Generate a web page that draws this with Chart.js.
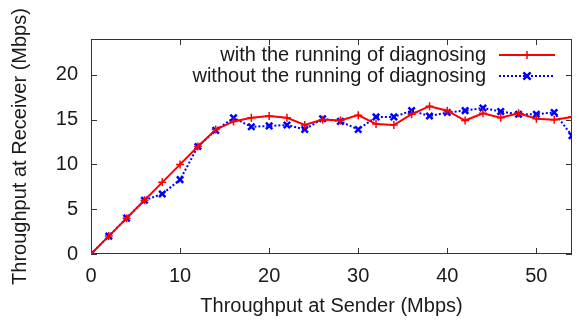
<!DOCTYPE html>
<html>
<head>
<meta charset="utf-8">
<script src="https://cdn.jsdelivr.net/npm/chart.js@4/dist/chart.umd.min.js"></script>
<style>
  html, body { margin: 0; padding: 0; background: #ffffff; }
  #wrap { width: 579px; height: 320px; }
</style>
</head>
<body>
<div id="wrap"><canvas id="c" width="579" height="320"></canvas></div>
<script>
// ---- data ----
const senderMbps = [0, 2, 4, 6, 8, 10, 12, 14, 16, 18, 20, 22, 24, 26, 28, 30, 32, 34, 36, 38, 40, 42, 44, 46, 48, 50, 52, 54];
const withDiagnosing = [0, 2, 4, 6, 8, 10, 12, 13.9, 14.8, 15.2, 15.4, 15.2, 14.4, 15.0, 14.9, 15.5, 14.5, 14.4, 15.6, 16.5, 16.0, 14.9, 15.7, 15.2, 15.7, 15.1, 15.0, 15.3];
const withoutDiagnosing = [0, 2, 4, 6, 6.7, 8.3, 12, 13.8, 15.2, 14.2, 14.3, 14.4, 13.9, 15.1, 14.8, 13.9, 15.3, 15.3, 16.0, 15.4, 15.8, 16.0, 16.3, 15.9, 15.6, 15.6, 15.8, 13.2];
const seriesLabels = ["with the running of diagnosing", "without the running of diagnosing"];
const xTickValues = [0, 10, 20, 30, 40, 50];
const yTickValues = [0, 5, 10, 15, 20];
const xTitle = "Throughput at Sender (Mbps)";
const yTitle = "Throughput at Receiver (Mbps)";

const FONT = "'Liberation Sans', Arial, Helvetica, sans-serif";
const TEXT = "#1a1a1a";
const AXIS = "#333333";

const toPoints = (ys) => senderMbps.map((x, i) => ({ x: x, y: ys[i] }));

const frameAndLegend = {
  id: 'frameAndLegend',
  beforeDatasetsDraw(chart) {
    const { ctx, chartArea: a, scales } = chart;
    ctx.save();
    ctx.strokeStyle = AXIS;
    ctx.lineWidth = 1;
    ctx.strokeRect(a.left + 0.5, a.top + 0.5, a.right - a.left - 1, a.bottom - a.top - 1);
    const L = 6;
    ctx.beginPath();
    xTickValues.forEach(v => {
      const px = Math.round(scales.x.getPixelForValue(v)) + 0.5;
      ctx.moveTo(px, a.bottom); ctx.lineTo(px, a.bottom - L);
      ctx.moveTo(px, a.top); ctx.lineTo(px, a.top + L);
    });
    yTickValues.forEach(v => {
      const py = Math.round(scales.y.getPixelForValue(v)) + 0.5;
      ctx.moveTo(a.left, py); ctx.lineTo(a.left + L, py);
      ctx.moveTo(a.right, py); ctx.lineTo(a.right - L, py);
    });
    ctx.stroke();
    ctx.restore();
  },
  afterDraw(chart) {
    const { ctx } = chart;
    ctx.save();
    ctx.font = "20px " + FONT;
    ctx.textAlign = 'right';
    ctx.textBaseline = 'middle';
    const rows = [55, 76];
    chart.data.datasets.forEach((ds, i) => {
      const y = rows[i];
      ctx.fillStyle = TEXT;
      ctx.fillText(ds.label, 486, y);
      ctx.strokeStyle = ds.borderColor;
      ctx.lineWidth = ds.borderWidth;
      ctx.setLineDash(ds.borderDash || []);
      ctx.beginPath();
      ctx.moveTo(499, y); ctx.lineTo(555, y);
      ctx.stroke();
      ctx.setLineDash([]);
      ctx.lineWidth = ds.pointBorderWidth;
      const cx = 527, r = ds.pointRadius;
      ctx.beginPath();
      if (ds.pointStyle === 'cross') {
        ctx.moveTo(cx - r, y); ctx.lineTo(cx + r, y);
        ctx.moveTo(cx, y - r); ctx.lineTo(cx, y + r);
      } else {
        const d = r * 0.8;
        ctx.moveTo(cx - d, y - d); ctx.lineTo(cx + d, y + d);
        ctx.moveTo(cx - d, y + d); ctx.lineTo(cx + d, y - d);
      }
      ctx.stroke();
    });
    ctx.restore();
  }
};

new Chart(document.getElementById('c'), {
  type: 'line',
  data: {
    datasets: [
      {
        label: seriesLabels[0],
        data: toPoints(withDiagnosing),
        borderColor: '#ff0000',
        backgroundColor: '#ff0000',
        borderWidth: 2,
        pointStyle: 'cross',
        pointRadius: 4,
        pointBorderWidth: 1.5,
        pointBorderColor: '#ff0000',
        tension: 0,
        fill: false
      },
      {
        label: seriesLabels[1],
        data: toPoints(withoutDiagnosing),
        borderColor: '#0000ff',
        backgroundColor: '#0000ff',
        borderWidth: 2,
        borderDash: [2, 2],
        pointStyle: 'crossRot',
        pointRadius: 4.5,
        pointBorderWidth: 2.5,
        pointBorderColor: '#0000ff',
        tension: 0,
        fill: false
      }
    ]
  },
  options: {
    responsive: false,
    animation: false,
    events: [],
    layout: { padding: { top: 39, right: 2, left: 0, bottom: 0 } },
    plugins: { legend: { display: false }, tooltip: { enabled: false } },
    scales: {
      x: {
        type: 'linear',
        min: 0,
        max: 54,
        afterBuildTicks: (s) => { s.ticks = xTickValues.map(v => ({ value: v })); },
        afterFit: (s) => { s.height = 66; },
        grid: { display: false, drawTicks: false },
        border: { display: false },
        ticks: { color: TEXT, font: { family: FONT, size: 20 }, padding: 10, maxRotation: 0 },
        title: { display: true, text: xTitle, color: TEXT, font: { family: FONT, size: 20 }, padding: { top: 0, bottom: 2 } }
      },
      y: {
        type: 'linear',
        min: 0,
        max: 24,
        afterBuildTicks: (s) => { s.ticks = yTickValues.map(v => ({ value: v })); },
        afterFit: (s) => { s.width = 91; },
        grid: { display: false, drawTicks: false },
        border: { display: false },
        ticks: { color: TEXT, font: { family: FONT, size: 20 }, padding: 13 },
        title: { display: true, text: yTitle, color: TEXT, font: { family: FONT, size: 20 }, padding: { top: 8, bottom: 0 } }
      }
    }
  },
  plugins: [frameAndLegend]
});
</script>
</body>
</html>
